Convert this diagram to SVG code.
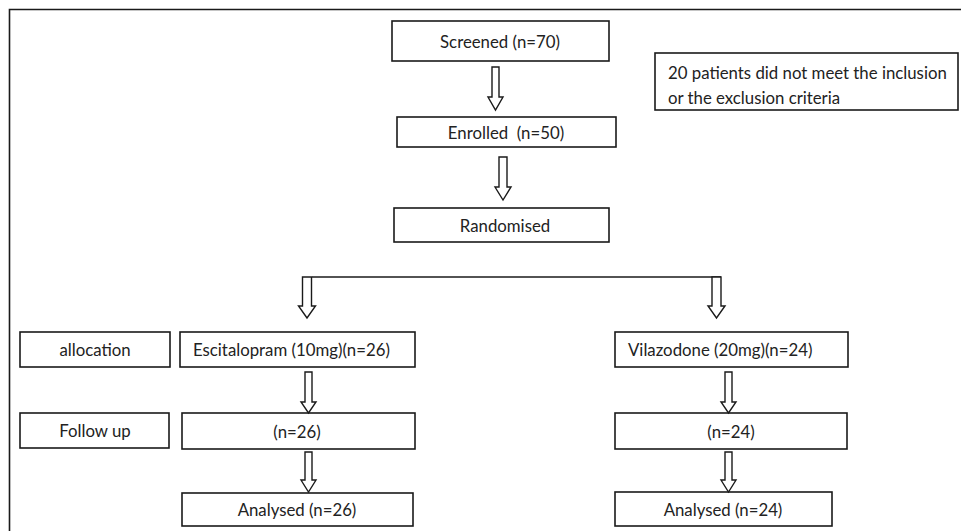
<svg xmlns="http://www.w3.org/2000/svg" width="961" height="531" viewBox="0 0 961 531">
<style>
.box{fill:#fff;stroke:#1a1a1a;stroke-width:1.6}
.t{font-family:Lato,"Liberation Sans",sans-serif;font-size:16.8px;fill:#222;dominant-baseline:central}
.c{text-anchor:middle}
.arr{fill:#fff;stroke:#1a1a1a;stroke-width:1.4;stroke-linejoin:miter}
.ln{stroke:#1a1a1a;stroke-width:1.6;fill:none}
</style>
<rect x="0" y="0" width="961" height="531" fill="#fff"/>
<path class="ln" d="M9.5 531 V9.5 H961"/>
<g id="screened"><rect class="box" x="392" y="21" width="217" height="40"/><text class="t c" x="500" y="41">Screened (n=70)</text></g>
<g id="note"><rect class="box" x="655" y="53" width="303" height="57"/><text class="t" x="668" y="72">20 patients did not meet the inclusion</text><text class="t" x="668" y="97">or the exclusion criteria</text></g>
<g id="enrolled"><rect class="box" x="397" y="117" width="219" height="30"/><text class="t c" x="506" y="132" xml:space="preserve">Enrolled  (n=50)</text></g>
<g id="randomised"><rect class="box" x="394" y="208" width="215" height="34"/><text class="t c" x="505" y="225">Randomised</text></g>
<g id="allocation"><rect class="box" x="20" y="332" width="150" height="35"/><text class="t c" x="95" y="349.5">allocation</text></g>
<g id="escitalopram"><rect class="box" x="180" y="332" width="235" height="35"/><text class="t" x="193" y="349.5">Escitalopram (10mg)(n=26)</text></g>
<g id="vilazodone"><rect class="box" x="615" y="332" width="233" height="35"/><text class="t" x="628" y="349.5">Vilazodone (20mg)(n=24)</text></g>
<g id="followup"><rect class="box" x="20" y="413" width="149" height="35"/><text class="t c" x="95" y="430.5">Follow up</text></g>
<g id="esc-follow"><rect class="box" x="182" y="413" width="233" height="36"/><text class="t c" x="297" y="431">(n=26)</text></g>
<g id="vil-follow"><rect class="box" x="615" y="413" width="232" height="36"/><text class="t c" x="731" y="431">(n=24)</text></g>
<g id="esc-analysed"><rect class="box" x="182" y="493" width="231" height="33"/><text class="t c" x="297" y="509.5">Analysed (n=26)</text></g>
<g id="vil-analysed"><rect class="box" x="615" y="492" width="217" height="34"/><text class="t c" x="723" y="509">Analysed (n=24)</text></g>
<g id="connectors">
<path class="ln" d="M312 277 H721"/>
<polygon class="arr" points="492,67 499,67 499,97 503,97 495.5,110 488,97 492,97"/>
<polygon class="arr" points="499,157 507,157 507,187 511,187 503,200 495,187 499,187"/>
<polygon class="arr" points="302.5,277 311.5,277 311.5,306 315.5,306 307,318 298.5,306 302.5,306"/>
<polygon class="arr" points="712,277 721,277 721,306 725,306 716.5,318 708,306 712,306"/>
<polygon class="arr" points="305,372 312,372 312,402 316,402 308.5,413 301,402 305,402"/>
<polygon class="arr" points="305,452 312,452 312,480 316,480 308.5,492 301,480 305,480"/>
<polygon class="arr" points="725,372 732,372 732,402 736,402 728.5,413 721,402 725,402"/>
<polygon class="arr" points="725,452 732,452 732,480 736,480 728.5,492 721,480 725,480"/>
</g>
</svg>
